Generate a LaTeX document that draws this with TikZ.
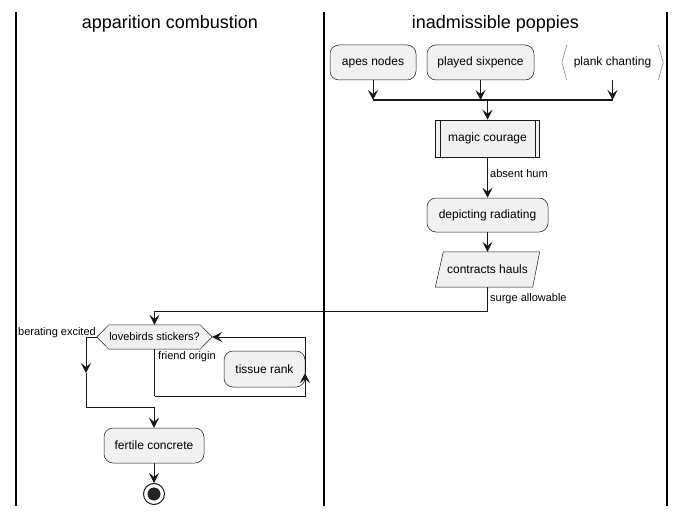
\documentclass[tikz,border=0pt]{standalone}
\usepackage{fontspec}
\setmainfont{Liberation Sans}
\usetikzlibrary{arrows.meta,calc}
\definecolor{boxfill}{HTML}{F1F1F1}
\definecolor{linec}{HTML}{181818}
\begin{document}
\begin{tikzpicture}[x=1pt,y=-1pt,
  box/.style={draw=linec, fill=boxfill, rounded corners=9pt, minimum height=35pt, inner sep=0pt, line width=0.5pt, font=\fontsize{12}{14}\selectfont},
  plain/.style={inner sep=0pt, font=\fontsize{12}{14}\selectfont},
  lbl/.style={inner sep=0pt, font=\fontsize{11}{13}\selectfont},
  title/.style={inner sep=0pt, font=\fontsize{18}{20}\selectfont},
  arr/.style={draw=linec, line width=1pt, -{Stealth[length=10pt,width=10pt,inset=4pt]}},
  ln/.style={draw=linec, line width=1pt},
  lane/.style={draw=black, line width=1.5pt}]
\useasboundingbox (0,0) rectangle (685,516);
% lanes
\draw[lane] (16,12) -- (16,506);
\draw[lane] (324,12) -- (324,506);
\draw[lane] (667,12) -- (667,506);
\node[title] (t1) at (170,24) {apparition combustion};
\node[title] (t2) at (495.5,24) {inadmissible poppies};
% top nodes
\node[box, minimum width=86pt] (apes) at (373,62.5) {apes nodes};
\node[box, minimum width=107pt] (played) at (480.5,62.5) {played sixpence};
\node[plain, minimum width=101pt, minimum height=35pt] (plank) at (612.5,62.5) {plank chanting};
\draw[draw=linec!60, line width=0.5pt] ([xshift=5pt]plank.north west) -- (plank.west) -- ([xshift=5pt]plank.south west);
\draw[draw=linec!60, line width=0.5pt] ([xshift=-5pt]plank.north east) -- (plank.east) -- ([xshift=-5pt]plank.south east);
\coordinate (barL) at (373,100);
\coordinate (barR) at (613,100);
\coordinate (barM) at (487.5,100);
\draw[arr] (apes.south) -- (apes.south |- barL);
\draw[arr] (played.south) -- (played.south |- barL);
\draw[arr] (plank.south) -- (plank.south |- barL);
\draw[draw=linec, line width=2.5pt] (barL) -- (barR);
% magic courage
\node[box, rounded corners=0pt, minimum width=104pt, minimum height=37pt] (magic) at (487.5,138.5) {magic courage};
\draw[draw=linec, line width=0.5pt] ([xshift=5pt]magic.north west) -- ([xshift=5pt]magic.south west);
\draw[draw=linec, line width=0.5pt] ([xshift=-5pt]magic.north east) -- ([xshift=-5pt]magic.south east);
\draw[arr] (barM) -- (magic.north);
% depicting radiating
\node[box, minimum width=121pt, minimum height=34pt] (dep) at (487.5,215) {depicting radiating};
\draw[arr] (magic.south) -- (dep.north);
\node[lbl, anchor=west] (absent) at (490,174) {absent hum};
% contracts hauls
\node[plain, minimum width=104pt, minimum height=35pt] (hauls) at (487.5,269.5) {};
\draw[draw=linec, fill=boxfill, line width=0.5pt] ([xshift=8pt]hauls.north west) -- (hauls.north east) -- ([xshift=-7pt]hauls.south east) -- (hauls.south west) -- cycle;
\node[plain] (haulstxt) at (hauls.center) {contracts hauls};
\draw[arr] (dep.south) -- (hauls.north);
\node[lbl, anchor=west] (surge) at (490,299) {surge allowable};
% decision
\node[plain, minimum width=115pt, minimum height=24pt] (dec) at (154.5,337) {};
\draw[draw=linec, fill=boxfill, line width=0.5pt] ([xshift=12pt]dec.north west) -- ([xshift=-12pt]dec.north east) -- (dec.east) -- ([xshift=-12pt]dec.south east) -- ([xshift=12pt]dec.south west) -- (dec.west) -- cycle;
\node[lbl] (dectxt) at (dec.center) {lovebirds stickers?};
\coordinate (c1) at (154.5,311);
\draw[arr] (hauls.south) |- (c1) -- (dec.north);
\node[lbl, anchor=east] (berating) at (96,333) {berating excited};
\node[lbl, anchor=west] (friend) at (158,357) {friend origin};
% tissue rank
\node[box, minimum width=81pt, minimum height=36pt] (tissue) at (264.5,369) {tissue rank};
% loops
\coordinate (l1) at (86,373);
\coordinate (c2) at (154,407);
\coordinate (c3) at (305,373);
\coordinate (c4) at (154.5,396);
\draw[arr] (dec.west) -| (l1);
\draw[ln] (dec.south) -- (c4);
\draw[arr] (c4) -| (c3);
\draw[arr] (c3) |- (dec.east);
% fertile concrete
\node[box, minimum width=100pt, minimum height=35pt] (fert) at (154,445.5) {fertile concrete};
\draw[arr] (l1) |- (c2) -- (fert.north);
% end
\node[circle, draw=linec, line width=1pt, minimum size=21pt, inner sep=0pt] (endn) at (154,494) {};
\fill[linec!95] (endn.center) circle (6.5pt);
\draw[arr] (fert.south) -- (endn.north);
\end{tikzpicture}
\end{document}
